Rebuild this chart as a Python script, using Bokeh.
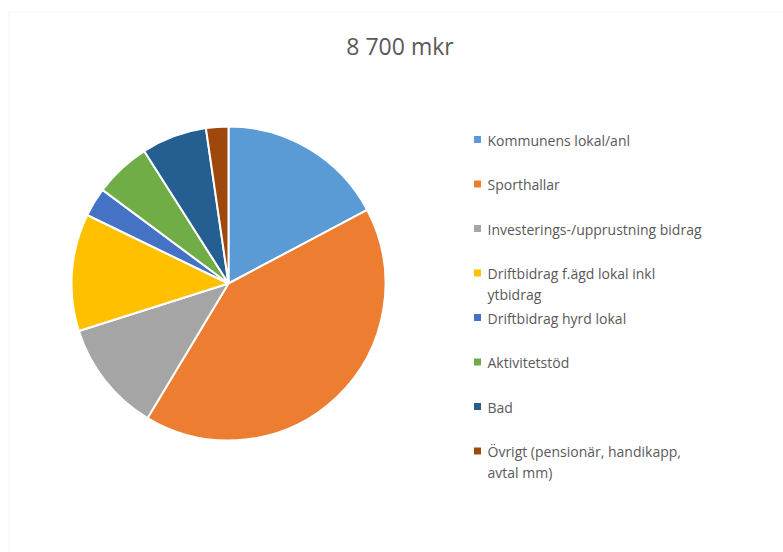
import numpy as np
from bokeh.plotting import figure
from bokeh.models import Range1d, ColumnDataSource, Label, BoxAnnotation
from bokeh.core.properties import value
from bokeh.embed import file_html
from bokeh.resources import INLINE

# ---- data (mkr; total 8 700 mkr) ----
categories = [
    "Kommunens lokal/anl",
    "Sporthallar",
    "Investerings-/upprustning bidrag",
    "Driftbidrag f.ägd lokal inkl\nytbidrag",
    "Driftbidrag hyrd lokal",
    "Aktivitetstöd",
    "Bad",
    "Övrigt (pensionär, handikapp,\navtal  mm)",
]
values = [1500, 3600, 1000, 1050, 260, 505, 585, 200]
colors = ["#5B9BD5", "#ED7D31", "#A5A5A5", "#FFC000",
          "#4472C4", "#70AD47", "#255E91", "#9E480E"]
title_text = "8 700 mkr"

W, H = 783, 552
FONT = "Open Sans"
TXT = "#595959"

p = figure(width=W, height=H, output_backend="svg", toolbar_location=None,
           x_range=Range1d(0, W), y_range=Range1d(0, H),
           x_axis_location=None, y_axis_location=None,
           min_border=0, tools="")
p.grid.visible = False
p.outline_line_color = None
p.background_fill_color = "white"
p.border_fill_color = "white"

# chart-area frame (only left and top edges visible)
p.add_layout(BoxAnnotation(left=8.5, top=H - 11.5, right=W + 50, bottom=-50,
                           fill_color=None, line_color="#d9d9d9", line_width=1))

# ---- pie ----
vals = np.array(values, dtype=float)
frac = vals / vals.sum()
cum = np.concatenate([[0.0], np.cumsum(frac)])
start = np.pi / 2 - cum[:-1] * 2 * np.pi
end = np.pi / 2 - cum[1:] * 2 * np.pi

cx, cy, r = 228, 269, 157
src = ColumnDataSource(dict(start=start, end=end, color=colors, label=categories,
                            value=values))
p.wedge(x=cx, y=cy, radius=r, start_angle="start", end_angle="end",
        direction="clock", fill_color="color", line_color="white",
        line_width=2, source=src)

# ---- legend ----
n = len(categories)
ly0, dy = 413, 44.5
leg = ColumnDataSource(dict(
    x=[477] * n, tx=[487] * n,
    y=[ly0 - dy * i for i in range(n)],
    ty=[ly0 - dy * i + 9 for i in range(n)],
    color=colors, label=categories))
p.scatter(x="x", y="y", marker="square", size=7, fill_color="color",
          line_color=None, source=leg)
p.text(x="tx", y="ty", text="label", text_font=value(FONT),
       text_font_size="14px", text_color=TXT, text_baseline="top",
       text_align="left", text_line_height=1.09, source=leg)

# ---- title ----
p.add_layout(Label(x=399.5, y=H - 45, text=title_text, text_font=FONT,
                   text_font_size="23px", text_color=TXT,
                   text_align="center", text_baseline="middle"))

open("out.html", "w").write(file_html(p, INLINE))
